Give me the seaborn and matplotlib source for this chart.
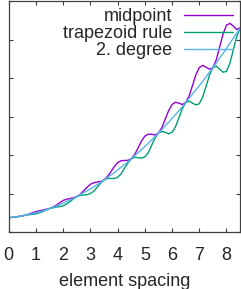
import numpy as np
import pandas as pd
import matplotlib
matplotlib.use("Agg")
import matplotlib.pyplot as plt
import seaborn as sns

# sample positions (element spacing), step 1/8
spacing = np.arange(69) / 8

midpoint = [0.37, 0.38, 0.39, 0.41, 0.42, 0.44, 0.47, 0.50,
            0.53, 0.55, 0.57, 0.59, 0.61, 0.65, 0.70, 0.76,
            0.82, 0.85, 0.87, 0.89, 0.92, 0.98, 1.07, 1.16,
            1.24, 1.28, 1.30, 1.31, 1.35, 1.44, 1.56, 1.70,
            1.80, 1.85, 1.86, 1.86, 1.90, 2.01, 2.18, 2.36,
            2.49, 2.54, 2.54, 2.52, 2.57, 2.71, 2.93, 3.15,
            3.31, 3.37, 3.35, 3.31, 3.36, 3.53, 3.80, 4.08,
            4.27, 4.33, 4.28, 4.23, 4.27, 4.47, 4.80, 5.14,
            5.37, 5.42, 5.35, 5.26, 5.30]

trapezoid = [0.37, 0.38, 0.39, 0.40, 0.42, 0.44, 0.45, 0.46,
             0.47, 0.50, 0.53, 0.57, 0.61, 0.63, 0.65, 0.66,
             0.68, 0.73, 0.79, 0.86, 0.92, 0.95, 0.96, 0.97,
             1.00, 1.06, 1.16, 1.27, 1.35, 1.39, 1.39, 1.39,
             1.42, 1.51, 1.65, 1.79, 1.90, 1.94, 1.93, 1.92,
             1.95, 2.06, 2.25, 2.44, 2.57, 2.61, 2.59, 2.55,
             2.59, 2.73, 2.96, 3.20, 3.36, 3.40, 3.35, 3.30,
             3.33, 3.50, 3.78, 4.07, 4.27, 4.31, 4.23, 4.15,
             4.17, 4.38, 4.72, 5.07, 5.30]

second_degree = [0.37, 0.38, 0.39, 0.40, 0.42, 0.44, 0.46, 0.48,
                 0.50, 0.52, 0.55, 0.58, 0.61, 0.64, 0.68, 0.71,
                 0.75, 0.79, 0.83, 0.87, 0.92, 0.97, 1.02, 1.07,
                 1.12, 1.17, 1.23, 1.29, 1.35, 1.41, 1.48, 1.54,
                 1.61, 1.68, 1.75, 1.82, 1.90, 1.98, 2.06, 2.14,
                 2.22, 2.30, 2.39, 2.48, 2.57, 2.66, 2.76, 2.85,
                 2.95, 3.05, 3.15, 3.25, 3.36, 3.47, 3.58, 3.69,
                 3.80, 3.91, 4.03, 4.15, 4.27, 4.39, 4.52, 4.64,
                 4.77, 4.90, 5.03, 5.16, 5.30]

names = ["midpoint", "trapezoid rule", "2. degree"]
colors = ["#9400d3", "#009e73", "#56b4e9"]
xticks = [0, 1, 2, 3, 4, 5, 6, 7, 8]

df = pd.DataFrame({
    "x": np.concatenate([spacing] * 3),
    "y": np.concatenate([midpoint, trapezoid, second_degree]),
    "method": np.repeat(names, len(spacing)),
})

sns.set_style("ticks")
plt.rcParams["font.family"] = ["Liberation Sans", "DejaVu Sans"]

fig = plt.figure(figsize=(2.41, 2.89), dpi=100)
ax = fig.add_axes([0.0365, 0.1972, 0.9595, 0.7993])

sns.lineplot(data=df, x="x", y="y", hue="method", hue_order=names,
             palette=colors, linewidth=1.0, ax=ax, sort=False)

ax.set_xlim(0, 8.5)
ax.set_ylim(0, 6)
ax.set_xticks(xticks)
ax.set_yticks(range(7))
ax.set_yticklabels([])
ax.tick_params(direction="in", length=3, width=0.8, color="#404040",
               top=True, right=True, labelsize=13, pad=10.5)
for s in ax.spines.values():
    s.set_color("#404040")
    s.set_linewidth(0.9)
ax.set_xlabel("element spacing", fontsize=13, labelpad=6.5)
ax.set_ylabel("")

ax.legend(loc="upper right", frameon=False, fontsize=13, markerfirst=False,
          handlelength=2.7, handletextpad=0.65, labelspacing=0.0,
          borderaxespad=0.15, borderpad=0.25)

fig.savefig("out.png", dpi=100)
